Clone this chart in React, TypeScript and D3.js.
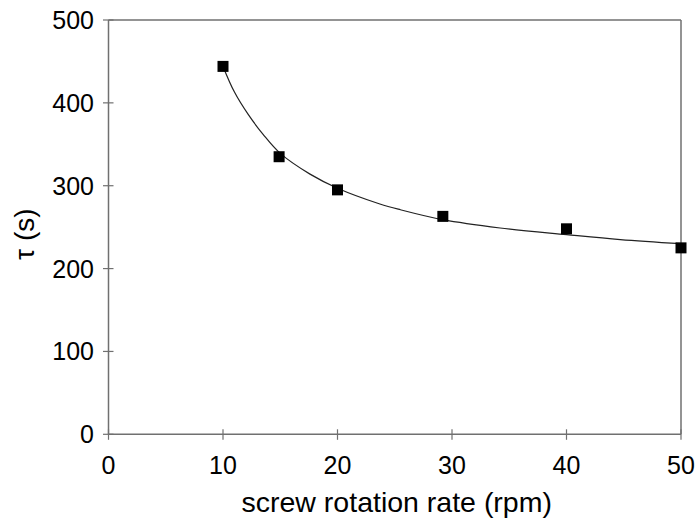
import React from "react";
import * as d3 from "d3";

const rpm = [10, 14.9, 20, 29.2, 40, 50];
const tau = [444, 335, 295, 263, 248, 225];
// fitted trend curve
const fitX = [10, 11, 12.2, 13.5, 15, 17.6, 20, 23.7, 25.5, 29.2, 34.2, 40, 44.7, 50];
const fitY = [444, 413, 386, 362, 339, 314, 297, 278, 271, 259, 249, 241, 235, 230];
const xTicks = [0, 10, 20, 30, 40, 50];
const yTicks = [0, 100, 200, 300, 400, 500];
const xTitle = "screw rotation rate (rpm)";
const yTitle = "τ (s)";

const W = 696, H = 519;
const L = 108.5, R = 681, T = 20, B = 434.3;
const font = "'Liberation Sans', Arial, Helvetica, sans-serif";

export default function App() {
  const x = d3.scaleLinear().domain([0, 50]).range([L, R]);
  const y = d3.scaleLinear().domain([0, 500]).range([B, T]);
  const line = d3
    .line<number>()
    .x((_, i) => x(fitX[i]))
    .y((d) => y(d))
    .curve(d3.curveCatmullRom.alpha(0.5));
  const axisColor = "#707070";
  return (
    <svg width={W} height={H} style={{ position: "absolute", left: 0, top: 0, background: "#fff" }}>
      <rect x={0} y={0} width={W} height={H} fill="#fff" />
      {/* frame */}
      <line x1={L} x2={R} y1={T} y2={T} stroke={axisColor} strokeWidth={1.5} />
      <line x1={R} x2={R} y1={T} y2={B} stroke={axisColor} strokeWidth={1.5} />
      <line x1={L} x2={L} y1={T} y2={B} stroke={axisColor} strokeWidth={1.5} />
      <line x1={L} x2={R} y1={B} y2={B} stroke={axisColor} strokeWidth={1.5} />
      {yTicks.map((t) => (
        <g key={"y" + t}>
          <line x1={L - 5.5} x2={L + 5} y1={y(t)} y2={y(t)} stroke={axisColor} strokeWidth={1.2} />
          <text x={94} y={y(t)} dy="0.36em" textAnchor="end" fontFamily={font} fontSize={25} fill="#000">
            {t}
          </text>
        </g>
      ))}
      {xTicks.map((t) => (
        <g key={"x" + t}>
          <line x1={x(t)} x2={x(t)} y1={B - 5} y2={B + 5.5} stroke={axisColor} strokeWidth={1.2} />
          <text x={x(t)} y={474} textAnchor="middle" fontFamily={font} fontSize={25} fill="#000">
            {t}
          </text>
        </g>
      ))}
      <path d={line(fitY) || ""} fill="none" stroke="#222" strokeWidth={1.2} />
      {rpm.map((r, i) => (
        <rect key={"p" + i} x={x(r) - 5.5} y={y(tau[i]) - 5.5} width={11} height={11} fill="#000" />
      ))}
      <text x={(L + R) / 2 + 2} y={512} textAnchor="middle" fontFamily={font} fontSize={28.5} fill="#000">
        {xTitle}
      </text>
      <text
        transform={`translate(34, ${(T + B) / 2 + 7}) rotate(-90)`}
        textAnchor="middle"
        fontFamily={font}
        fontSize={28}
        fill="#000"
      >
        {yTitle}
      </text>
    </svg>
  );
}
